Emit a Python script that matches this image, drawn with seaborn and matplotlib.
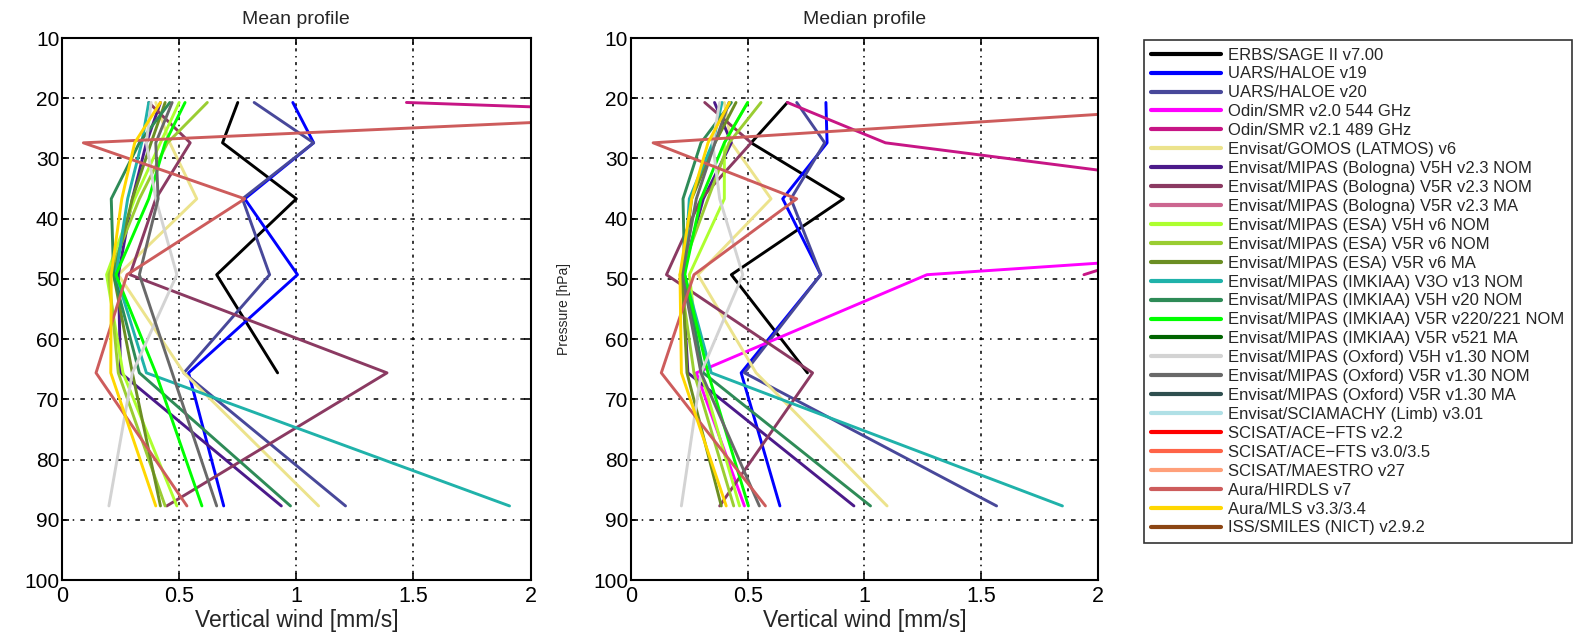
import numpy as np
import pandas as pd
import matplotlib
matplotlib.use('Agg')
import matplotlib.pyplot as plt
from matplotlib.lines import Line2D
import seaborn as sns

nan = np.nan

# pressure levels of the profiles [hPa]
levels = [20.7, 27.4, 36.7, 49.3, 65.6, 87.7]

datasets = [
    'ERBS/SAGE II v7.00',
    'UARS/HALOE v19',
    'UARS/HALOE v20',
    'Odin/SMR v2.0 544 GHz',
    'Odin/SMR v2.1 489 GHz',
    'Envisat/GOMOS (LATMOS) v6',
    'Envisat/MIPAS (Bologna) V5H v2.3 NOM',
    'Envisat/MIPAS (Bologna) V5R v2.3 NOM',
    'Envisat/MIPAS (Bologna) V5R v2.3 MA',
    'Envisat/MIPAS (ESA) V5H v6 NOM',
    'Envisat/MIPAS (ESA) V5R v6 NOM',
    'Envisat/MIPAS (ESA) V5R v6 MA',
    'Envisat/MIPAS (IMKIAA) V3O v13 NOM',
    'Envisat/MIPAS (IMKIAA) V5H v20 NOM',
    'Envisat/MIPAS (IMKIAA) V5R v220/221 NOM',
    'Envisat/MIPAS (IMKIAA) V5R v521 MA',
    'Envisat/MIPAS (Oxford) V5H v1.30 NOM',
    'Envisat/MIPAS (Oxford) V5R v1.30 NOM',
    'Envisat/MIPAS (Oxford) V5R v1.30 MA',
    'Envisat/SCIAMACHY (Limb) v3.01',
    'SCISAT/ACE\u2212FTS v2.2',
    'SCISAT/ACE\u2212FTS v3.0/3.5',
    'SCISAT/MAESTRO v27',
    'Aura/HIRDLS v7',
    'Aura/MLS v3.3/3.4',
    'ISS/SMILES (NICT) v2.9.2',
]

colors = [
    '#000000', '#0000ff', '#48489a', '#ff00ff', '#c71585', '#ece38c',
    '#4b1a8a', '#8b3a62', '#cc6690', '#adff2f', '#9acd32', '#6b8e23',
    '#20b2aa', '#2e8b57', '#00ff00', '#006400', '#d3d3d3', '#696969',
    '#2f4f4f', '#b0e0e6', '#ff0000', '#ff6347', '#ffa07a', '#cd5c5c',
    '#ffd700', '#8b4513',
]

# mean vertical wind [mm/s] at each level, one row per dataset
mean_wind = [
    [0.75, 0.685, 1.00, 0.66, 0.92, nan],
    [0.985, 1.074, 0.78, 1.005, 0.54, 0.69],
    [0.82, 1.074, 0.77, 0.886, 0.52, 1.21],
    [nan, nan, nan, nan, nan, nan],
    [1.47, 6.4, nan, nan, nan, nan],
    [0.40, 0.46, 0.575, 0.24, 0.52, 1.095],
    [0.42, 0.36, 0.30, 0.24, 0.25, 0.936],
    [0.37, 0.547, 0.40, 0.29, 1.387, 0.447],
    [nan, nan, nan, nan, nan, nan],
    [0.50, 0.42, 0.31, 0.19, 0.26, 0.49],
    [0.62, 0.45, 0.33, 0.20, 0.24, 0.44],
    [0.44, 0.38, 0.30, 0.22, 0.30, 0.42],
    [0.37, 0.34, 0.28, 0.23, 0.36, 1.91],
    [0.46, 0.33, 0.21, 0.22, 0.33, 0.975],
    [0.525, 0.44, 0.37, 0.23, 0.40, 0.597],
    [nan, nan, nan, nan, nan, nan],
    [0.38, 0.36, 0.40, 0.49, 0.30, 0.20],
    [0.47, 0.40, 0.41, 0.33, 0.47, 0.66],
    [nan, nan, nan, nan, nan, nan],
    [nan, nan, nan, nan, nan, nan],
    [nan, nan, nan, nan, nan, nan],
    [nan, nan, nan, nan, nan, nan],
    [nan, nan, nan, nan, nan, nan],
    [3.9, 0.091, 0.78, 0.277, 0.145, 0.533],
    [0.42, 0.31, 0.255, 0.21, 0.208, 0.40],
    [nan, nan, nan, nan, nan, nan],
]

# median vertical wind [mm/s]
median_wind = [
    [0.67, 0.515, 0.91, 0.43, 0.756, nan],
    [0.835, 0.84, 0.65, 0.813, 0.472, 0.638],
    [0.71, 0.83, 0.685, 0.813, 0.486, 1.566],
    [nan, nan, 6.1, 1.268, 0.28, 0.486],
    [0.67, 1.09, 2.96, 1.94, nan, nan],
    [0.40, 0.43, 0.60, 0.287, 0.536, 1.097],
    [0.358, 0.43, 0.31, 0.22, 0.244, 0.955],
    [0.316, 0.515, 0.30, 0.152, 0.778, 0.38],
    [nan, nan, nan, nan, nan, nan],
    [0.50, 0.40, 0.40, 0.25, 0.30, 0.465],
    [0.557, 0.42, 0.33, 0.21, 0.27, 0.44],
    [0.45, 0.36, 0.26, 0.22, 0.24, 0.387],
    [0.39, 0.35, 0.25, 0.23, 0.344, 1.848],
    [0.43, 0.30, 0.223, 0.23, 0.31, 1.026],
    [0.50, 0.40, 0.30, 0.23, 0.33, 0.503],
    [nan, nan, nan, nan, nan, nan],
    [0.38, 0.35, 0.38, 0.479, 0.30, 0.216],
    [0.42, 0.36, 0.28, 0.22, 0.30, 0.55],
    [nan, nan, nan, nan, nan, nan],
    [nan, nan, nan, nan, nan, nan],
    [nan, nan, nan, nan, nan, nan],
    [nan, nan, nan, nan, nan, nan],
    [nan, nan, nan, nan, nan, nan],
    [2.8, 0.095, 0.71, 0.27, 0.13, 0.576],
    [0.422, 0.33, 0.26, 0.21, 0.216, 0.408],
    [nan, nan, nan, nan, nan, nan],
]

x_ticks = [0, 0.5, 1, 1.5, 2]
x_tick_labels = ['0', '0.5', '1', '1.5', '2']
y_ticks = list(range(10, 101, 10))

sns.set_style('white')
plt.rcParams['font.family'] = ['Liberation Sans', 'DejaVu Sans']


def to_long(rows):
    recs = []
    for name, vals in zip(datasets, rows):
        for p, v in zip(levels, vals):
            recs.append({'dataset': name, 'pressure': p, 'wind': v})
    return pd.DataFrame(recs).dropna()


palette = dict(zip(datasets, colors))

fig = plt.figure(figsize=(15.75, 6.35), dpi=100)
ax1 = fig.add_axes([0.0394, 0.0866, 0.2975, 0.8535])
ax2 = fig.add_axes([0.4006, 0.0866, 0.2965, 0.8535])

for ax, rows, title in [(ax1, mean_wind, 'Mean profile'),
                        (ax2, median_wind, 'Median profile')]:
    df = to_long(rows)
    sns.lineplot(data=df, x='wind', y='pressure', hue='dataset',
                 hue_order=[d for d in datasets if d in set(df['dataset'])],
                 palette=palette, sort=False, estimator=None,
                 linewidth=2.1, legend=False, ax=ax)
    ax.set_xlim(0, 2)
    ax.set_ylim(100, 10)
    ax.set_xticks(x_ticks)
    ax.set_xticklabels(x_tick_labels)
    ax.set_yticks(y_ticks)
    ax.tick_params(axis='x', labelsize=15.5, pad=4)
    ax.tick_params(axis='y', labelsize=15, pad=2)
    ax.tick_params(direction='in', length=5, width=1.2, top=True, right=True,
                   bottom=True, left=True, colors='black')
    ax.grid(axis='x', color='black', linestyle=(0, (1, 3, 2, 3)), linewidth=1.1)
    ax.grid(axis='y', color='black', linestyle=(0, (3, 4, 1, 4)), linewidth=1.1)
    for s in ax.spines.values():
        s.set_linewidth(1.5)
        s.set_color('black')
    ax.set_title(title, fontsize=14, pad=10)
    ax.set_xlabel('Vertical wind [mm/s]', fontsize=16.5, labelpad=2)
    ax.set_ylabel('')

ax2.set_ylabel('Pressure [hPa]', fontsize=10, labelpad=16)

handles = [Line2D([0], [0], color=c, lw=3) for c in colors]
leg = fig.legend(handles, datasets, loc='upper left',
                 bbox_to_anchor=(0.7262, 0.937), fontsize=12,
                 frameon=True, fancybox=False, handlelength=4.2,
                 handletextpad=0.4, labelspacing=0.235, borderpad=0.45,
                 borderaxespad=0)
leg.get_frame().set_edgecolor('black')
leg.get_frame().set_linewidth(1.2)

plt.savefig('out.png', dpi=100)
